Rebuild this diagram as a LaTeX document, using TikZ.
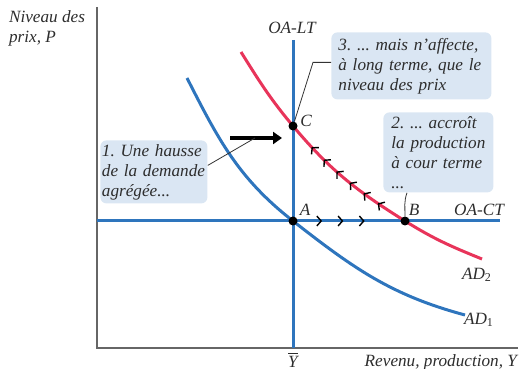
\documentclass[tikz,border=0pt]{standalone}
\usepackage{fontspec}
\setmainfont{Liberation Serif}
\usetikzlibrary{arrows.meta, decorations.markings}
\definecolor{oablue}{RGB}{46,117,189}
\definecolor{adred}{RGB}{232,52,90}
\definecolor{notefill}{RGB}{218,230,243}
\definecolor{txtgray}{RGB}{45,45,45}

\begin{document}
\begin{tikzpicture}[x=0.5pt, y=0.5pt,
  every node/.style={font=\fontsize{8.6}{10}\selectfont\itshape\frenchspacing, text=txtgray},
  axisl/.style={draw=black!60, line width=0.6pt},
  oal/.style={draw=oablue, line width=1.5pt},
  adl/.style={line width=1.5pt},
  dot/.style={circle, fill=black, inner sep=0pt, minimum size=4.5pt},
  note/.style={fill=notefill, rounded corners=3pt, align=left, anchor=north west, inner ysep=1pt},
  lead/.style={draw=black!80, line width=0.4pt},
  push/.style={-{Triangle[length=4.5pt, width=6pt]}, line width=2pt, black},
  chevct/.style={decorate, decoration={markings,
      mark=between positions 0.26 and 0.66 step 0.19 with {\arrow{Straight Barb[length=2.2pt, width=5pt, line width=0.7pt]}}}},
  chevad/.style={decorate, decoration={markings,
      mark=between positions 0.22 and 0.82 step 0.118 with {\arrow{Straight Barb[length=2.2pt, width=5pt, line width=0.7pt]}}}},
]
\useasboundingbox (0,0) rectangle (519,369);

% Equilibrium points
\coordinate (cA) at (293,148);
\coordinate (cB) at (405,148);
\coordinate (cC) at (293,243);

% Axes
\draw[axisl] (97,362) -- (97,21) -- (518,21);

% Long-run and short-run supply
\draw[oal] (293,329) -- (293,21);
\draw[oal] (97,148) -- (500,148);

% Demand curves
\coordinate (ad1_s) at (187,291);
\coordinate (ad1_e) at (465,54);
\coordinate (ad2_s) at (241,317);
\coordinate (ad2_e) at (482,110);
\draw[adl, draw=oablue] (ad1_s) to[out=-63, in=142] (cA) to[out=-38, in=165] (ad1_e);
\draw[adl, draw=adred] (ad2_s) to[out=-58, in=130] (cC) to[out=-50, in=148] (cB) to[out=-32, in=158] (ad2_e);

% Direction marks
\path[chevct] (cA) -- (cB);
\path[chevad] (cB) to[out=148, in=-50] (cC);

% Dots
\node[dot] (ptA) at (cA) {};
\node[dot] (ptB) at (cB) {};
\node[dot] (ptC) at (cC) {};

% Shift of demand
\coordinate (push_s) at (230,231);
\coordinate (push_e) at (282,231);
\coordinate (push_m) at (255,231);
\draw[push] (push_s) -- (push_e);

% Labels
\node (lab_lt) at (292,341) {OA-LT};
\node (lab_ct) at (479,159) {OA-CT};
\node (lab_a) at (305,159) {A};
\node (lab_b) at (414,159) {B};
\node (lab_c) at (306,248) {C};
\node (lab_ad2) at (477,94) {AD\textsubscript{\upshape 2}};
\node (lab_ad1) at (479,49) {AD\textsubscript{\upshape 1}};
\node (lab_ybar) at (293,9) {$\overline{\mbox{\itshape Y}}$};
\node[anchor=east] (lab_y) at (524,7) {Revenu, production, Y};
\node[anchor=north west, align=left] (lab_p) at (2,365) {Niveau des\\prix, P};

% Notes
\node[note, minimum width=53.5pt, minimum height=31.5pt, text width=52pt, inner xsep=0.75pt]
  (note_hausse) at (100,229) {1. Une hausse\\de la demande\\agrégée...};
\node[note, minimum width=80pt, minimum height=33.5pt, text width=73pt, inner xsep=3.5pt]
  (note_prix) at (331,337) {3. ... mais n'affecte,\\à long terme, que le\\niveau des prix};
\node[note, minimum width=55pt, minimum height=40pt, text width=47pt, inner xsep=4pt]
  (note_prod) at (383,257) {2. ... accroît\\la production\\à cour terme\\...};

% Leaders
\draw[lead] ([yshift=3.25pt]note_hausse.east) -- (push_m);
\draw[lead] ([yshift=1.75pt]note_prix.west) -- ++(-18,0) -- (ptC);
\draw[lead] ([xshift=12pt]note_prod.south west) to[out=-110, in=90] (ptB);
\end{tikzpicture}
\end{document}
